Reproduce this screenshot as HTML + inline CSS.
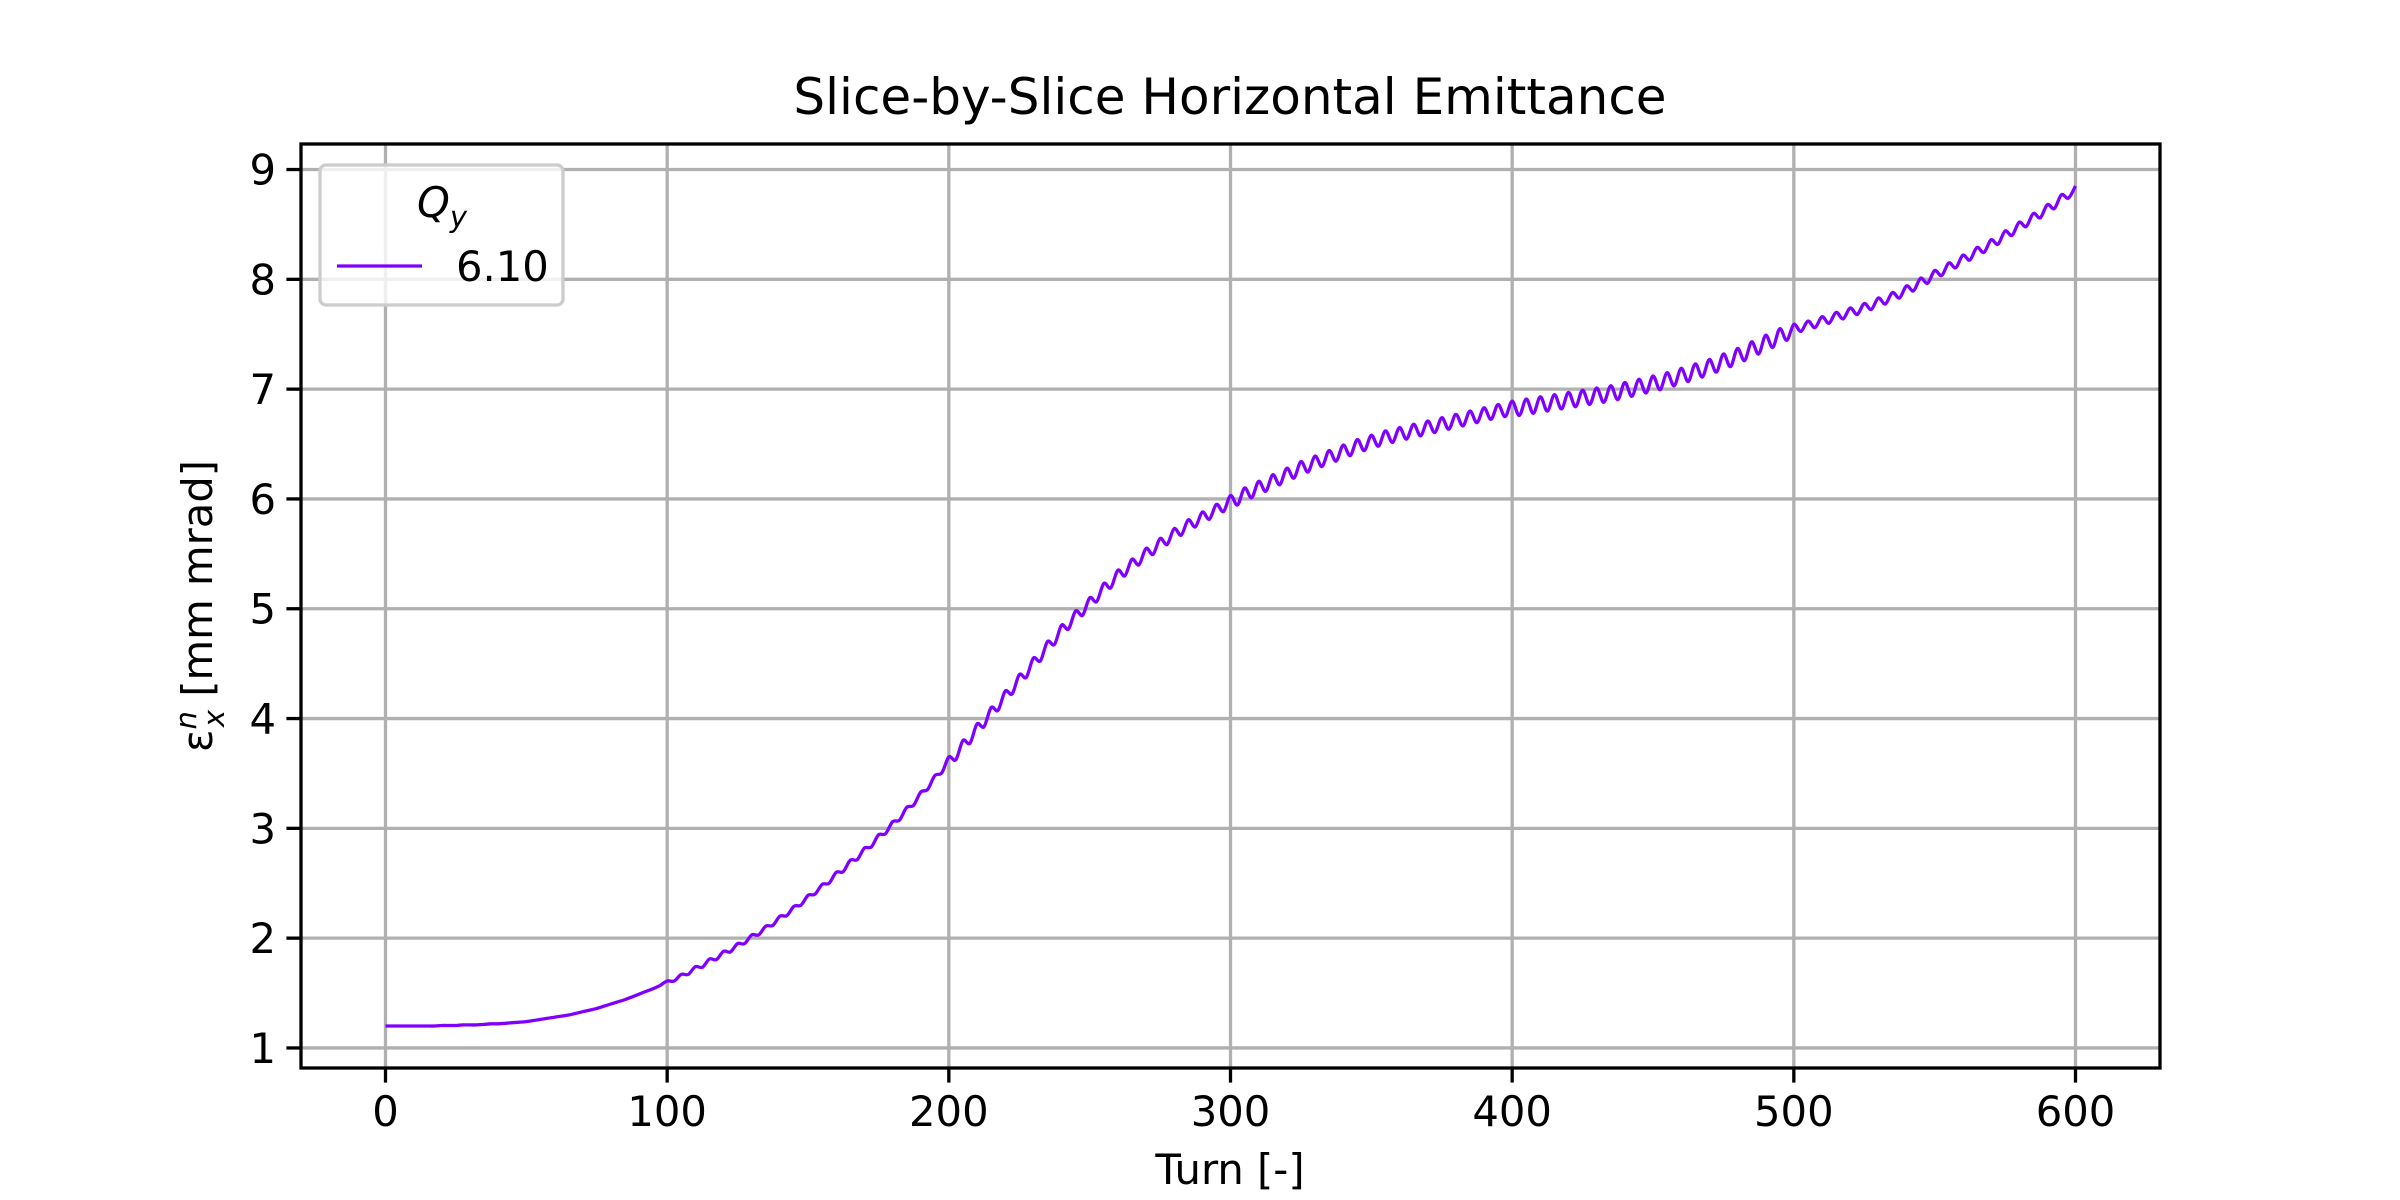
<!DOCTYPE html>
<html><head><meta charset="utf-8"><style>
html,body{margin:0;padding:0;background:#fff;}
svg{display:block;font-family:"DejaVu Sans","Liberation Sans",sans-serif;}
</style></head><body>
<svg id="chart" width="2400" height="1200" viewBox="0 0 2400 1200">
<rect x="0" y="0" width="2400" height="1200" fill="#fff"/>
<text x="1230" y="114" font-size="50" text-anchor="middle">Slice-by-Slice Horizontal Emittance</text>
<g id="grid"></g>
<g id="series"></g>
<rect x="301" y="144" width="1859" height="924" fill="none" stroke="#000" stroke-width="3.3"/>
<g id="ticks"></g>
<text x="1230" y="1184" font-size="41.7" text-anchor="middle">Turn [-]</text>
<text transform="translate(212,606) rotate(-90)" font-size="41.7" text-anchor="middle">ε<tspan font-style="italic" font-size="29" dy="-16">n</tspan><tspan font-style="italic" font-size="29" dx="-16" dy="28">x</tspan><tspan dy="-12"> [mm mrad]</tspan></text>
<g>
<rect x="320" y="165" width="243" height="140" rx="6" fill="#fff" fill-opacity="0.8" stroke="#ccc" stroke-width="3.3"/>
<text x="442" y="217" font-size="41.7" font-style="italic" text-anchor="middle">Q<tspan font-size="29" dy="10">y</tspan></text>
<line x1="337" y1="266" x2="422" y2="266" stroke="#8000ff" stroke-width="3.3"/>
<text x="456" y="281" font-size="41.7">6.10</text>
</g>
</svg>
<script>
const xTicks=[0,100,200,300,400,500,600];
const yTicks=[1,2,3,4,5,6,7,8,9];
const peaks=[1.20,1.20,1.20,1.20,1.205,1.205,1.21,1.215,1.22,1.23,1.24,1.26,1.28,1.30,1.33,1.36,1.40,1.44,1.49,1.54,
1.61,1.67,1.74,1.81,1.88,1.95,2.03,2.11,2.20,2.29,2.39,2.49,2.60,2.71,2.82,2.94,3.06,3.19,3.33,3.48,
3.65,3.80,3.95,4.10,4.25,4.40,4.55,4.70,4.85,4.98,5.10,5.23,5.35,5.45,5.55,5.64,5.73,5.81,5.88,5.95,
6.03,6.10,6.16,6.22,6.28,6.34,6.39,6.44,6.49,6.54,6.58,6.62,6.65,6.68,6.71,6.74,6.77,6.80,6.83,6.86,
6.89,6.91,6.93,6.95,6.97,6.99,7.01,7.03,7.06,7.09,7.12,7.15,7.19,7.23,7.27,7.32,7.37,7.43,7.49,7.55,
7.59,7.62,7.66,7.70,7.74,7.78,7.83,7.88,7.94,8.01,8.08,8.15,8.22,8.29,8.36,8.44,8.52,8.60,8.68,8.77,8.85];
const troughs=[1.20,1.20,1.20,1.20,1.205,1.21,1.21,1.22,1.225,1.235,1.25,1.27,1.29,1.315,1.345,1.38,1.42,1.465,1.515,1.57,
1.61,1.67,1.735,1.805,1.875,1.95,2.03,2.115,2.205,2.30,2.40,2.50,2.605,2.715,2.83,2.95,3.075,3.21,3.355,3.505,
3.625,3.775,3.925,4.075,4.225,4.375,4.525,4.675,4.815,4.94,5.065,5.19,5.30,5.40,5.495,5.585,5.67,5.745,5.815,5.885,
5.945,6.01,6.07,6.13,6.19,6.245,6.295,6.345,6.395,6.44,6.48,6.515,6.545,6.575,6.605,6.635,6.665,6.695,6.725,6.75,
6.76,6.78,6.80,6.82,6.84,6.86,6.88,6.905,6.935,6.965,6.995,7.03,7.07,7.11,7.155,7.205,7.26,7.32,7.38,7.445,
7.525,7.56,7.60,7.64,7.68,7.725,7.775,7.83,7.895,7.965,8.035,8.105,8.175,8.245,8.32,8.40,8.48,8.56,8.645,8.74];
const turnStep=5;

const L=301,R=2160,T=144,B=1068;
const NS='http://www.w3.org/2000/svg';
const pts=[];
for(let i=0;i<peaks.length;i++){pts.push([i*turnStep,peaks[i]]);if(i<troughs.length)pts.push([i*turnStep+turnStep/2,troughs[i]]);}
const xs=pts.map(p=>p[0]),ys=pts.map(p=>p[1]);
const xmin=Math.min(...xs),xmax=Math.max(...xs),ymin=Math.min(...ys),ymax=Math.max(...ys);
const xm=(xmax-xmin)*0.05,ym=(ymax-ymin)*0.05;
const x0=xmin-xm,x1=xmax+xm,y0=ymin-ym,y1=ymax+ym;
const sx=v=>L+(v-x0)/(x1-x0)*(R-L);
const sy=v=>B-(v-y0)/(y1-y0)*(B-T);
const grid=document.getElementById('grid'),ticks=document.getElementById('ticks'),series=document.getElementById('series');
function mk(tag,attrs,parent){const e=document.createElementNS(NS,tag);for(const k in attrs)e.setAttribute(k,attrs[k]);parent.appendChild(e);return e;}
xTicks.forEach(t=>{
 const x=sx(t);
 const g=mk('line',{x1:x,x2:x,y1:T,y2:B,stroke:'#b0b0b0','stroke-width':3.3},grid);
 
 
 const tk=mk('line',{x1:x,x2:x,y1:B,y2:B+14.6,stroke:'#000','stroke-width':3.3},ticks);
 
 
 const lb=mk('text',{x:x,y:B+58,'font-size':41.7,'text-anchor':'middle'},ticks);
 lb.textContent=t;
 
 
});
yTicks.forEach(t=>{
 const y=sy(t);
 const g=mk('line',{x1:L,x2:R,y1:y,y2:y,stroke:'#b0b0b0','stroke-width':3.3},grid);
 
 
 const tk=mk('line',{x1:L-14.6,x2:L,y1:y,y2:y,stroke:'#000','stroke-width':3.3},ticks);
 
 
 const lb=mk('text',{x:L-25,y:y+15,'font-size':41.7,'text-anchor':'end'},ticks);
 lb.textContent=t;
 
 
});
const P=pts.map(p=>[sx(p[0]),sy(p[1])]);
let d='M'+P[0][0].toFixed(1)+','+P[0][1].toFixed(1);
for(let i=0;i<P.length-1;i++){
 const p0=P[Math.max(0,i-1)],p1=P[i],p2=P[i+1],p3=P[Math.min(P.length-1,i+2)];
 const c1=[p1[0]+(p2[0]-p0[0])/6,p1[1]+(p2[1]-p0[1])/6];
 const c2=[p2[0]-(p3[0]-p1[0])/6,p2[1]-(p3[1]-p1[1])/6];
 d+='C'+c1[0].toFixed(1)+','+c1[1].toFixed(1)+' '+c2[0].toFixed(1)+','+c2[1].toFixed(1)+' '+p2[0].toFixed(1)+','+p2[1].toFixed(1);
}
const line=mk('path',{d:d,fill:'none',stroke:'#8000ff','stroke-width':3.3,'stroke-linejoin':'round'},series);


</script>
</body></html>
